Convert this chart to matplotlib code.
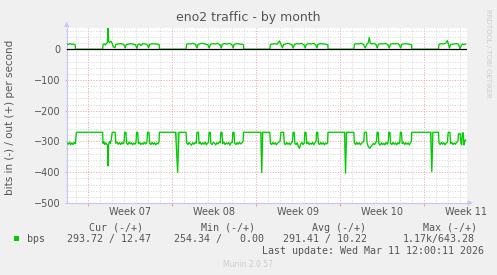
import matplotlib
matplotlib.use("Agg")
import matplotlib.pyplot as plt
from matplotlib.ticker import MultipleLocator, FixedLocator
from matplotlib.patches import Polygon, Rectangle
import matplotlib.transforms as mtransforms

# ---------------- data (time in days from first week boundary) ----------------
title = "eno2 traffic - by month"
ylabel = "bits in (-) / out (+) per second"
week_starts = [0, 7, 14, 21, 28]
week_labels = ["Week 07", "Week 08", "Week 09", "Week 10", "Week 11"]

# incoming traffic (drawn negative): (day, value)
in_points = [
    (-1.78, -305), (-1.65, -309), (-1.55, -302), (-1.45, -311), (-1.35, -304), (-1.25, -310),
    (-1.15, -303), (-1.05, -307), (-0.97, -270),
    (1.22, -270), (1.25, -306), (1.32, -301), (1.40, -310), (1.48, -304), (1.56, -309),
    (1.63, -312), (1.67, -379), (1.71, -313), (1.78, -300), (1.86, -306), (1.94, -293),
    (2.02, -270), (2.26, -270), (2.32, -306), (2.42, -302), (2.52, -309), (2.62, -304),
    (2.72, -310), (2.82, -303), (2.92, -308), (3.00, -304), (3.06, -270), (3.16, -270),
    (3.22, -306), (3.32, -310), (3.42, -302), (3.52, -308), (3.62, -304), (3.72, -311),
    (3.82, -305), (3.92, -309), (4.00, -303), (4.05, -270), (4.14, -270), (4.20, -307),
    (4.30, -303), (4.40, -310), (4.50, -305), (4.60, -309), (4.70, -302), (4.80, -308),
    (4.90, -304), (4.97, -270), (5.08, -270), (5.14, -306), (5.24, -310), (5.34, -303),
    (5.44, -309), (5.54, -304), (5.64, -311), (5.74, -305), (5.84, -308), (5.92, -300),
    (5.95, -270),
    (7.30, -270), (7.47, -401), (7.58, -270), (8.17, -270),
    (8.22, -305), (8.32, -310), (8.42, -303), (8.52, -308), (8.62, -312), (8.72, -304),
    (8.82, -309), (8.92, -303), (9.02, -306), (9.08, -270), (9.20, -270), (9.26, -307),
    (9.36, -303), (9.46, -310), (9.56, -304), (9.66, -309), (9.76, -302), (9.86, -311),
    (9.96, -305), (10.04, -303), (10.09, -270), (10.18, -270), (10.24, -306), (10.34, -310),
    (10.44, -303), (10.54, -305), (10.64, -311), (10.74, -304), (10.84, -308), (10.94, -302),
    (11.02, -304), (11.07, -270), (11.16, -270), (11.22, -307), (11.32, -302), (11.42, -310),
    (11.52, -305), (11.62, -308), (11.72, -303), (11.82, -312), (11.92, -304), (12.02, -303),
    (12.07, -270), (12.16, -270), (12.22, -306), (12.32, -310), (12.42, -304), (12.52, -309),
    (12.62, -302), (12.72, -308), (12.82, -305), (12.92, -300), (12.97, -270),
    (14.40, -270), (14.48, -401), (14.56, -270), (15.15, -270),
    (15.20, -306), (15.30, -310), (15.40, -303), (15.50, -309), (15.60, -304), (15.70, -311),
    (15.80, -305), (15.90, -302), (16.00, -300), (16.08, -270), (16.30, -270), (16.36, -307),
    (16.46, -310), (16.56, -303), (16.66, -309), (16.76, -305), (16.86, -311), (16.96, -304),
    (17.04, -300), (17.09, -270), (17.18, -270), (17.24, -306), (17.34, -310), (17.44, -304),
    (17.54, -318), (17.62, -322), (17.72, -309), (17.82, -303), (17.92, -310), (18.02, -305),
    (18.07, -270), (18.16, -270), (18.22, -307), (18.32, -302), (18.42, -310), (18.52, -305),
    (18.62, -309), (18.72, -303), (18.82, -311), (18.92, -304), (19.00, -300), (19.05, -270),
    (19.14, -270), (19.20, -306), (19.30, -310), (19.40, -303), (19.50, -309), (19.60, -304),
    (19.70, -311), (19.80, -305), (19.90, -308), (19.97, -303), (20.00, -270),
    (21.38, -270), (21.46, -403), (21.55, -270), (22.15, -270),
    (22.20, -305), (22.30, -310), (22.40, -303), (22.50, -309), (22.60, -304), (22.70, -311),
    (22.80, -306), (22.90, -302), (22.98, -300), (23.03, -270), (23.20, -270), (23.26, -306),
    (23.34, -315), (23.42, -320), (23.50, -322), (23.58, -316), (23.68, -312), (23.78, -306),
    (23.88, -310), (23.98, -303), (24.04, -300), (24.09, -270), (24.18, -270), (24.24, -307),
    (24.34, -312), (24.44, -304), (24.54, -310), (24.64, -306), (24.74, -311), (24.84, -303),
    (24.94, -309), (25.02, -302), (25.07, -270), (25.16, -270), (25.22, -306), (25.32, -310),
    (25.42, -303), (25.52, -309), (25.62, -305), (25.72, -311), (25.82, -304), (25.92, -308),
    (25.98, -302), (26.03, -270), (26.12, -270), (26.18, -307), (26.28, -303), (26.38, -310),
    (26.48, -304), (26.58, -309), (26.68, -305), (26.78, -311), (26.88, -303), (26.95, -300),
    (26.98, -270),
    (28.55, -270), (28.65, -398), (28.74, -270), (29.20, -270),
    (29.25, -305), (29.35, -310), (29.45, -303), (29.55, -309), (29.65, -304), (29.75, -311),
    (29.85, -305), (29.95, -302), (30.02, -270), (30.16, -270), (30.22, -307), (30.32, -303),
    (30.42, -310), (30.52, -305), (30.62, -309), (30.72, -302), (30.82, -300), (30.88, -275),
    (31.02, -275), (31.08, -306), (31.14, -311), (31.20, -272), (31.27, -272), (31.33, -311),
    (31.40, -298), (31.48, -295),
]

# outgoing traffic (drawn positive): (day, value)
out_points = [
    (-1.78, 14), (-1.72, 17), (-1.60, 16), (-1.48, 18), (-1.36, 16), (-1.24, 17), (-1.12, 15),
    (-1.07, 14), (-1.05, 0),
    (1.22, 0), (1.25, 15), (1.35, 18), (1.45, 14), (1.55, 20), (1.62, 22), (1.67, 71),
    (1.72, 25), (1.80, 22), (1.90, 26), (2.00, 20), (2.10, 8), (2.25, 5), (2.32, 16),
    (2.50, 17), (2.70, 18), (2.90, 17), (3.00, 14), (3.10, 4), (3.18, 15), (3.40, 17),
    (3.60, 18), (3.80, 16), (3.95, 15), (4.08, 3), (4.16, 15), (4.30, 17), (4.45, 12),
    (4.55, 18), (4.80, 17), (4.95, 14), (5.05, 4), (5.13, 16), (5.40, 18), (5.60, 17),
    (5.85, 16), (5.94, 14), (5.95, 0),
    (8.17, 0), (8.22, 16), (8.35, 18), (8.55, 17), (8.75, 19), (8.95, 16), (9.08, 4),
    (9.16, 15), (9.26, 17), (9.45, 19), (9.65, 18), (9.85, 16), (10.00, 14), (10.10, 4),
    (10.20, 16), (10.40, 18), (10.60, 17), (10.80, 19), (11.00, 14), (11.10, 4), (11.18, 16),
    (11.40, 18), (11.60, 17), (11.80, 19), (12.00, 14), (12.10, 4), (12.18, 16), (12.40, 18),
    (12.60, 17), (12.85, 16), (12.96, 14), (12.97, 0),
    (15.15, 0), (15.20, 15), (15.35, 17), (15.55, 18), (15.75, 16), (15.95, 27), (16.05, 18),
    (16.20, 5), (16.30, 15), (16.45, 17), (16.65, 19), (16.85, 17), (17.00, 14), (17.10, 4),
    (17.20, 16), (17.40, 18), (17.60, 17), (17.80, 19), (18.00, 14), (18.10, 4), (18.20, 16),
    (18.40, 18), (18.60, 17), (18.80, 19), (18.98, 14), (19.08, 4), (19.16, 16), (19.40, 18),
    (19.60, 17), (19.85, 16), (19.99, 14), (20.00, 0),
    (22.15, 0), (22.20, 16), (22.35, 18), (22.55, 17), (22.75, 19), (22.95, 16), (23.10, 4),
    (23.22, 15), (23.34, 20), (23.44, 38), (23.52, 20), (23.65, 17), (23.85, 19), (24.00, 15),
    (24.10, 4), (24.20, 16), (24.40, 18), (24.60, 17), (24.80, 19), (25.00, 14), (25.10, 4),
    (25.20, 16), (25.40, 18), (25.60, 17), (25.80, 19), (25.95, 14), (26.05, 4), (26.15, 16),
    (26.40, 18), (26.60, 17), (26.85, 16), (26.97, 14), (26.98, 0),
    (29.20, 0), (29.25, 16), (29.40, 18), (29.60, 17), (29.80, 19), (29.95, 28), (30.05, 14),
    (30.12, 4), (30.22, 15), (30.45, 17), (30.70, 18), (30.88, 16), (31.00, 1), (31.10, 12),
    (31.20, 17), (31.30, 15), (31.40, 16), (31.48, 17),
]
in_t = [p[0] for p in in_points]
in_v = [p[1] for p in in_points]
out_t = [p[0] for p in out_points]
out_v = [p[1] for p in out_points]

legend_name = "bps"
legend_heads = ["Cur (-/+)", "Min (-/+)", "Avg (-/+)", "Max (-/+)"]
legend_vals = ["293.72 / 12.47", "254.34 /   0.00", "291.41 / 10.22", "1.17k/643.28"]
last_update = "Last update: Wed Mar 11 12:00:11 2026"
credit = "Munin 2.0.57"
side_credit = "RRDTOOL / TOBI OETIKER"

# ---------------- drawing ----------------
W, H = 497, 275
GREEN = "#00CC00"
TXT = "#555555"
fig = plt.figure(figsize=(W / 100, H / 100), dpi=100, facecolor="#F0F0F0")


def fx(px):
    return px / W


def fy(py):
    return 1 - py / H


L, R, T, B = 66.7, 467.3, 27.7, 203.0
ax = fig.add_axes([fx(L), fy(B), (R - L) / W, (B - T) / H])
ax.set_facecolor("white")
ax.set_xlim((L - 88) / 12, (R - 88) / 12)
ax.set_ylim(-500, 70)

ax.xaxis.set_major_locator(FixedLocator(week_starts))
ax.xaxis.set_minor_locator(MultipleLocator(1))
ax.yaxis.set_major_locator(MultipleLocator(100))
ax.yaxis.set_minor_locator(MultipleLocator(20))
ax.grid(which="minor", color="#D6D6D6", linestyle=(0, (1, 1.6)), linewidth=0.72)
ax.grid(which="major", color="#EBA5A5", linestyle=(0, (1, 1.6)), linewidth=0.72)
ax.set_axisbelow(True)
ax.set_xticklabels([])
ax.tick_params(axis="x", which="major", length=2.5, color="#E8A0A0", direction="out")
ax.tick_params(axis="x", which="minor", length=0)
ax.tick_params(axis="y", which="major", length=1.5, color="#C0C0C0", direction="out",
               labelsize=7, labelcolor=TXT, pad=3.2)
ax.tick_params(axis="y", which="minor", length=1.0, color="#C0C0C0", direction="out")

for s in ("top", "right"):
    ax.spines[s].set_visible(False)
for s in ("left", "bottom"):
    ax.spines[s].set_color("#C8C8F5")
    ax.spines[s].set_linewidth(0.9)

# light wedge under the sharp dips (as rrdtool's antialiasing shows them)
for i in range(1, len(in_v) - 1):
    if in_v[i] < -350:
        ax.fill(in_t[i - 1:i + 2], in_v[i - 1:i + 2], color="#9BE69B", lw=0, zorder=2.5)

ax.plot(in_t, in_v, color=GREEN, lw=0.95, zorder=3)
ax.plot(out_t, out_v, color=GREEN, lw=0.95, zorder=3)
ax.axhline(0, color="black", lw=0.9, zorder=4)

# week labels centred in each week
trans = mtransforms.blended_transform_factory(ax.transData, ax.transAxes)
for ws, lab in zip(week_starts, week_labels):
    ax.text(ws + 3.5, -9 / (B - T), lab, transform=trans, ha="center", va="center",
            fontsize=7, color=TXT, clip_on=False)

# axis arrows
fig.add_artist(Polygon([(fx(64.0), fy(27.0)), (fx(69.4), fy(27.0)), (fx(66.7), fy(21.5))],
                       closed=True, transform=fig.transFigure, facecolor="#C8C8F5",
                       edgecolor="none"))
fig.add_artist(Polygon([(fx(467.5), fy(200.3)), (fx(467.5), fy(205.7)), (fx(473.0), fy(203.0))],
                       closed=True, transform=fig.transFigure, facecolor="#C8C8F5",
                       edgecolor="none"))

# texts
fig.text(fx(248), fy(17), title, ha="center", va="center", fontsize=9, color=TXT)
fig.text(fx(10), fy(117), ylabel, ha="center", va="center", rotation=90,
         fontsize=7.5, color=TXT)
fig.text(fx(488), fy(53), side_credit, ha="center", va="center", rotation=270,
         fontsize=5, color="#CCCCCC")

mono = dict(family="DejaVu Sans Mono", fontsize=7.2, color=TXT, va="center", ha="left")
for x, h in zip([89.3, 201.0, 312.3, 422.7], legend_heads):
    fig.text(fx(x), fy(227.7), h, **mono)
for x, v in zip([66.7, 174.3, 283.3, 402.7], legend_vals):
    fig.text(fx(x), fy(239.3), v, **mono)
fig.text(fx(26.7), fy(239.3), legend_name, **mono)
fig.add_artist(Rectangle((fx(14), fy(241.3)), (19.3 - 14) / W, 5.5 / H,
                         transform=fig.transFigure, facecolor=GREEN, edgecolor="none"))
fig.text(fx(261.7), fy(251), last_update, **mono)
fig.text(fx(248), fy(264.3), credit, ha="center", va="center", fontsize=5.5, color="#CCCCCC")

fig.savefig("out.png", dpi=100, facecolor=fig.get_facecolor())
